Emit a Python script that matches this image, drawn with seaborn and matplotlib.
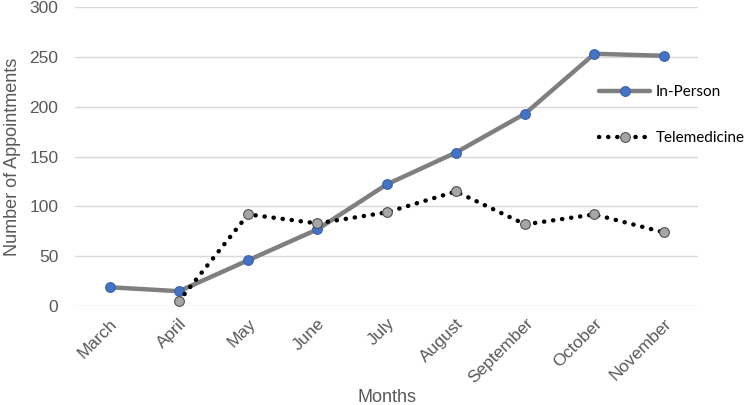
import numpy as np
import pandas as pd
import matplotlib
matplotlib.use("Agg")
import matplotlib.pyplot as plt
import seaborn as sns

# Chart data
months = ["March", "April", "May", "June", "July", "August",
          "September", "October", "November"]
in_person = [19, 15, 46, 77, 122, 154, 193, 253, 251]
telemedicine = [np.nan, 5, 92, 83, 94, 115, 82, 92, 74]

df = pd.DataFrame({"pos": np.arange(len(months)),
                   "Month": months,
                   "In-Person": in_person,
                   "Telemedicine": telemedicine})

sns.set_style("white")
plt.rcParams["font.family"] = ["Liberation Sans", "DejaVu Sans"]
text_col = "#595959"

fig = plt.figure(figsize=(7.5, 4.05), dpi=100)
ax = fig.add_axes([0.1, 0.244, 0.831, 0.739])

sns.lineplot(data=df, x="pos", y="In-Person", ax=ax, color="#7f7f7f",
             linewidth=3.2, marker="o", markersize=7,
             markerfacecolor="#4472c4", markeredgecolor="#3a63ad",
             markeredgewidth=0.8, label="In-Person", zorder=3)
tele = df.dropna(subset=["Telemedicine"])
sns.lineplot(data=tele, x="pos", y="Telemedicine", ax=ax, color="black",
             linewidth=3.2, linestyle=(0, (0.05, 2.0)), marker="o",
             markersize=7, markerfacecolor="#a6a6a6",
             markeredgecolor="#505050", markeredgewidth=0.8,
             label="Telemedicine", zorder=3)
for ln in ax.lines:
    ln.set_dash_capstyle("round")

ax.set_xlim(-0.5, len(months) - 0.5)
ax.set_ylim(0, 300)
ax.set_yticks(range(0, 301, 50))
ax.set_xticks(df["pos"])
ax.set_xticklabels(months, rotation=45, ha="right", rotation_mode="anchor")
ax.yaxis.grid(True, color="#d9d9d9", linewidth=1)
ax.set_axisbelow(True)
for s in ax.spines.values():
    s.set_visible(False)
ax.tick_params(axis="both", length=0, labelsize=12.5, colors=text_col, pad=7)
ax.tick_params(axis="y", pad=12)
ax.set_xlabel("Months", fontsize=13, color=text_col, labelpad=2)
ax.set_ylabel("Number of Appointments", fontsize=13, color=text_col,
              labelpad=6)

leg = ax.legend(loc="center left", bbox_to_anchor=(0.84, 0.639),
                frameon=False, borderpad=0, borderaxespad=0,
                prop={"family": ["Lato", "DejaVu Sans"], "size": 11},
                labelspacing=2.1, handlelength=3.4, handletextpad=0.35,
                numpoints=1, labelcolor="black")

fig.savefig("out.png", dpi=100)
